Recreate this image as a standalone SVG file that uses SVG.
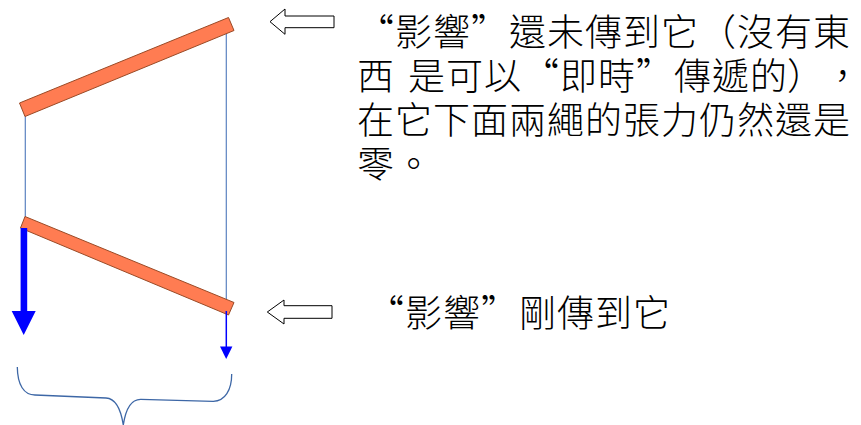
<svg xmlns="http://www.w3.org/2000/svg" width="861" height="425" viewBox="0 0 861 425">
<style>
.bar{fill:#FF7C52;stroke:#9a4a26;stroke-width:1}
.rope{stroke:#5b82c0;stroke-width:1.2;fill:none}
.force{fill:#0000FF}
.hollow{fill:#fff;stroke:#000;stroke-width:1}
.txt{font-family:"Noto Sans CJK TC","Noto Sans CJK SC",sans-serif;font-size:37px;font-weight:300;fill:#000}
.brace{fill:none;stroke:#3d67a6;stroke-width:1.3}
</style>
<rect width="861" height="425" fill="#fff"/>
<g id="connectors">
<line class="rope" x1="25.3" y1="114" x2="25.3" y2="219"/>
<line class="rope" x1="226.3" y1="26" x2="226.3" y2="304"/>
</g>
<g id="top-bar"><polygon class="bar" points="19.5,103 25,116.5 234,30.5 228.5,17.5"/></g>
<g id="bottom-bar"><polygon class="bar" points="25,216.5 20.5,228 228.5,315 234,302.5"/></g>
<g id="big-force">
<rect class="force" x="20.6" y="228" width="6.6" height="84"/>
<polygon class="force" points="11.7,311 35.7,311 23.7,335"/>
</g>
<g id="small-force">
<line x1="226.3" y1="311" x2="226.3" y2="348" stroke="#0000FF" stroke-width="1.5"/>
<polygon class="force" points="220,346.5 232.4,346.5 226.2,359"/>
</g>
<g id="brace"><path class="brace" d="M17.3,367 C17.5,385 24,395 35,395 L106,398 C116,398.5 121,410 123.3,425 C125.5,410 130,399 141,399.3 L213,401.3 C225,401.5 231.7,390 231.7,374"/></g>
<g id="arrow-top"><polygon class="hollow" points="270,21.7 285,9 285,16 334,16 334,27.7 285,27.7 285,34.3"/></g>
<g id="arrow-bottom"><polygon class="hollow" points="267.3,312 284,300 284,305.7 332,305.7 332,318.3 284,318.3 284,324"/></g>
<g id="text-top">
<text class="txt" y="45.5" x="357 395 433 471 509 547 585 623 661 699 737 775 813">“影響”還未傳到它（沒有東</text>
<text class="txt" y="89.5" x="357 395 408 446 484 522 560 598 636 674 712 750 787 824">西 是可以“即時”傳遞的），</text>
<text class="txt" y="134" x="357 395 433 471 509 547 585 623 661 699 737 775 813">在它下面兩繩的張力仍然還是</text>
<text class="txt" y="177.5" x="357 395">零。</text>
</g>
<g id="text-bottom">
<text class="txt" y="327" x="367 405 443 481 519 557 595 633">“影響”剛傳到它</text>
</g>
</svg>
